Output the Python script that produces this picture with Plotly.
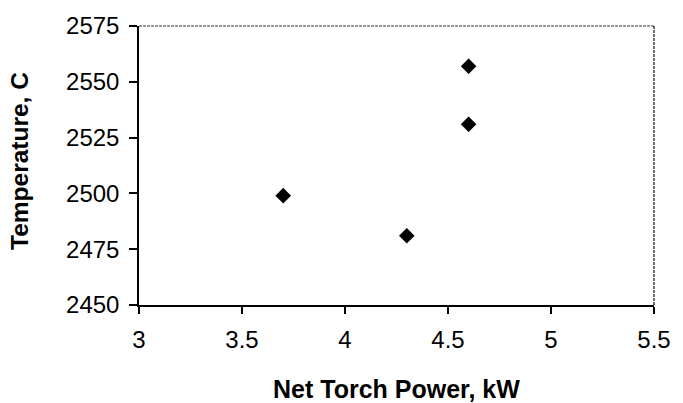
import plotly.graph_objects as go

# Data
power_kw = [3.7, 4.3, 4.6, 4.6]
temperature_c = [2499, 2481, 2557, 2531]

x_ticks = [3, 3.5, 4, 4.5, 5, 5.5]
x_tick_labels = ["3", "3.5", "4", "4.5", "5", "5.5"]
y_ticks = [2450, 2475, 2500, 2525, 2550, 2575]
y_tick_labels = ["2450", "2475", "2500", "2525", "2550", "2575"]

FONT = "Arial, Liberation Sans, sans-serif"

fig = go.Figure()
fig.add_trace(go.Scatter(
    x=power_kw, y=temperature_c, mode="markers",
    marker=dict(symbol="diamond", size=12, color="black", line=dict(width=0)),
    showlegend=False,
))

fig.update_layout(
    width=683, height=403,
    margin=dict(l=139, r=19, t=19, b=98),
    paper_bgcolor="white", plot_bgcolor="white",
    font=dict(family=FONT, color="black"),
    xaxis=dict(
        range=[3, 5.5], tickvals=x_ticks, ticktext=x_tick_labels,
        showgrid=False, zeroline=False,
        showline=True, linecolor="black", linewidth=2,
        ticks="outside", ticklen=7, tickwidth=1.5, tickcolor="black",
        tickfont=dict(size=24, family=FONT, color="black"),
        ticklabelstandoff=5,
    ),
    yaxis=dict(
        range=[2450, 2575], tickvals=y_ticks, ticktext=y_tick_labels,
        showgrid=False, zeroline=False,
        showline=True, linecolor="black", linewidth=1.5,
        ticks="outside", ticklen=8, tickwidth=1.5, tickcolor="black",
        tickfont=dict(size=24, family=FONT, color="black"),
        ticklabelstandoff=5,
    ),
    shapes=[
        dict(type="line", xref="paper", yref="paper", x0=0, x1=1, y0=1, y1=1,
             line=dict(color="#333", width=1, dash="3px,1px")),
        dict(type="line", xref="paper", yref="paper", x0=1, x1=1, y0=0, y1=1,
             line=dict(color="#222", width=1.3, dash="3px,1px")),
    ],
    annotations=[
        dict(text="<b>Net Torch Power, kW</b>", xref="paper", yref="paper",
             x=0.5, y=0, xanchor="center", yanchor="middle", yshift=-83.5,
             borderpad=0, showarrow=False,
             font=dict(size=25, family=FONT, color="black")),
        dict(text="<b>Temperature, C</b>", xref="paper", yref="paper",
             x=0, y=0.5, xanchor="center", yanchor="middle", xshift=-119.5, yshift=4,
             borderpad=0, textangle=-90, showarrow=False,
             font=dict(size=24.5, family=FONT, color="black")),
    ],
)

fig.write_html("out.html")
